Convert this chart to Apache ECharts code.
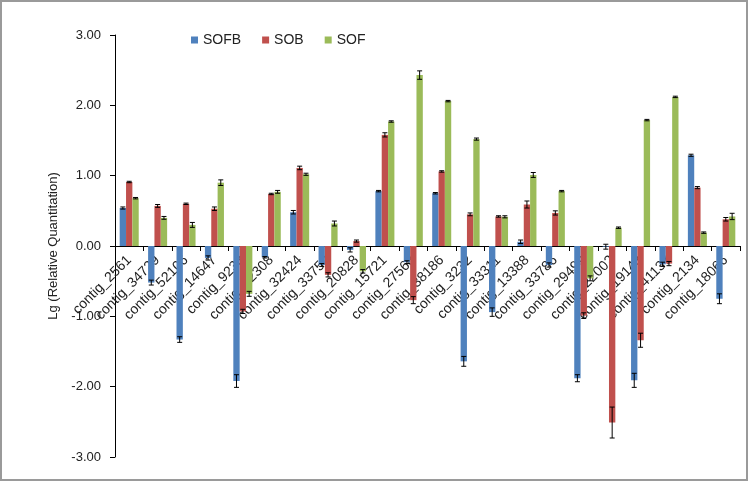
<!DOCTYPE html>
<html>
<head>
<meta charset="utf-8">
<script src="https://cdn.jsdelivr.net/npm/echarts@6/dist/echarts.min.js"></script>
<style>
html,body{margin:0;padding:0;background:#fff;}
#chart{width:750px;height:483px;}
</style>
</head>
<body>
<div id="chart"></div>
<script>
var categories = ['contig_2561','contig_34729','contig_52106','contig_14647','contig_9238','contig_22308','contig_32424','contig_33752','contig_20828','contig_15721','contig_27568','contig_38186','contig_3232','contig_33311','contig_13388','contig_33786','contig_29499','contig_22002','contig_19143','contig_41137','contig_2134','contig_18066'];
var seriesNames = ['SOFB','SOB','SOF'];
var SOFB = [0.54, -0.52, -1.33, -0.17, -1.92, -0.16, 0.48, -0.27, -0.055, 0.78, -0.23, 0.75, -1.64, -0.94, 0.06, -0.27, -1.88, -0.01, -1.91, -0.26, 1.29, -0.75];
var SOFB_err = [0.015, 0.035, 0.04, 0.03, 0.09, 0.01, 0.025, 0.02, 0.03, 0.01, 0.02, 0.01, 0.07, 0.06, 0.025, 0.03, 0.05, 0.035, 0.1, 0.03, 0.015, 0.07];
var SOB = [0.91, 0.57, 0.60, 0.53, -0.93, 0.74, 1.11, -0.41, 0.07, 1.58, -0.77, 1.06, 0.45, 0.42, 0.59, 0.47, -0.99, -2.51, -1.34, -0.25, 0.83, 0.38];
var SOB_err = [0.01, 0.02, 0.01, 0.025, 0.03, 0.01, 0.025, 0.03, 0.015, 0.03, 0.05, 0.01, 0.02, 0.01, 0.05, 0.03, 0.04, 0.22, 0.1, 0.03, 0.015, 0.025];
var SOF = [0.68, 0.40, 0.30, 0.90, -0.68, 0.77, 1.02, 0.32, -0.36, 1.77, 2.43, 2.06, 1.52, 0.415, 1.01, 0.78, -0.46, 0.26, 1.79, 2.12, 0.19, 0.42];
var SOF_err = [0.01, 0.02, 0.035, 0.04, 0.035, 0.02, 0.015, 0.035, 0.025, 0.01, 0.06, 0.01, 0.015, 0.015, 0.035, 0.01, 0.035, 0.01, 0.01, 0.01, 0.01, 0.045];
var yTicks = [-3, -2, -1, 0, 1, 2, 3];
var colors = ['#4F81BD', '#C0504D', '#9BBB59'];

var values = [SOFB, SOB, SOF];
var errs = [SOFB_err, SOB_err, SOF_err];
var GAP = 0.33;
var FONT = '"Liberation Sans", Arial, sans-serif';
var GRID_TOP = 35, GRID_BOTTOM = 26, H = 483;
var plotH = H - GRID_TOP - GRID_BOTTOM;
var yMin = yTicks[0], yMax = yTicks[yTicks.length - 1];
// shift the category axis from the grid bottom up to the zero line
var zeroOffset = -plotH * (0 - yMin) / (yMax - yMin);

var errData = [];
for (var s = 0; s < 3; s++) {
  for (var i = 0; i < categories.length; i++) {
    errData.push([i, values[s][i], errs[s][i], s]);
  }
}

function renderErr(params, api) {
  var idx = api.value(0), v = api.value(1), e = api.value(2), s = api.value(3);
  var cw = api.size([1, 0])[0];
  var bw = cw * (1 - GAP) / 3;
  var off = (s - 1) * bw;
  var top = api.coord([idx, v + e]);
  var bot = api.coord([idx, v - e]);
  var x = top[0] + off;
  var cap = 2.5;
  var style = {stroke: '#000', lineWidth: 1};
  return {
    type: 'group',
    children: [
      {type: 'line', shape: {x1: x, y1: top[1], x2: x, y2: bot[1]}, style: style},
      {type: 'line', shape: {x1: x - cap, y1: top[1], x2: x + cap, y2: top[1]}, style: style},
      {type: 'line', shape: {x1: x - cap, y1: bot[1], x2: x + cap, y2: bot[1]}, style: style}
    ]
  };
}

var chart = echarts.init(document.getElementById('chart'), null, {renderer: 'canvas'});
var series = seriesNames.map(function (n, k) {
  return {
    name: n, type: 'bar', data: values[k],
    itemStyle: {color: colors[k]},
    barGap: '0%', barCategoryGap: (GAP * 100) + '%'
  };
});
series.push({
  type: 'custom', renderItem: renderErr, data: errData,
  encode: {x: 0, y: 1}, z: 10, silent: true
});

chart.setOption({
  animation: false,
  textStyle: {fontFamily: FONT},
  graphic: [{
    type: 'rect', shape: {x: 1, y: 1, width: 746, height: 479},
    style: {fill: 'none', stroke: '#9a9a9a', lineWidth: 2}, silent: true
  }],
  legend: {
    data: seriesNames, top: 28, left: 186,
    icon: 'rect', itemWidth: 7, itemHeight: 7, itemGap: 21,
    textStyle: {fontSize: 14, color: '#222', fontFamily: FONT}
  },
  grid: {left: 115, right: 10, top: GRID_TOP, bottom: GRID_BOTTOM, containLabel: false, outerBoundsMode: 'none'},
  xAxis: {
    type: 'category', data: categories, position: 'bottom', offset: zeroOffset,
    axisLine: {onZero: false, lineStyle: {color: '#000', width: 1}},
    axisTick: {show: true, alignWithLabel: false, length: 5, lineStyle: {color: '#000'}},
    axisLabel: {interval: 0, rotate: 45, fontSize: 14, color: '#222', margin: 12, fontFamily: FONT},
    splitLine: {show: false}
  },
  yAxis: {
    type: 'value', min: yMin, max: yMax, interval: 1,
    name: 'Lg (Relative Quantitation)', nameLocation: 'middle', nameGap: 55, nameRotate: 90,
    nameTextStyle: {fontSize: 13, color: '#222', fontFamily: FONT},
    axisLine: {show: true, lineStyle: {color: '#000', width: 1}},
    axisTick: {show: true, length: 5, lineStyle: {color: '#000'}},
    axisLabel: {fontSize: 13, color: '#222', margin: 14, fontFamily: FONT,
      formatter: function (v) { return v.toFixed(2); }},
    splitLine: {show: false}
  },
  series: series
});
</script>
</body>
</html>
